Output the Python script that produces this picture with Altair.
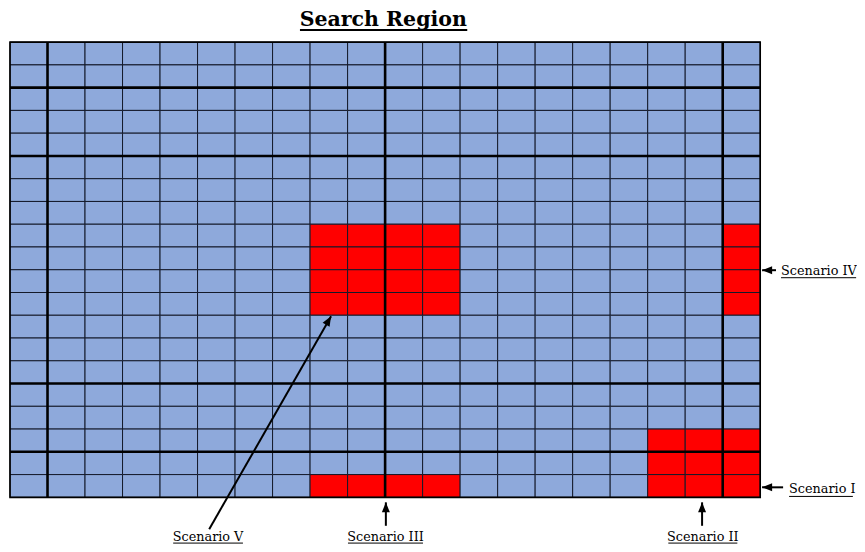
import altair as alt
import pandas as pd

# ---------------- data ----------------
N_COLS = 20
N_ROWS = 20
# red blocks: (col_start, col_end_exclusive, row_start, row_end_exclusive), rows counted from the top
RED_BLOCKS = [
    (8, 12, 8, 12),
    (19, 20, 8, 12),
    (17, 20, 17, 20),
    (8, 12, 19, 20),
]
THICK_COLS = [1, 10, 19]
THICK_ROWS = [2, 5, 15, 18]

BLUE = "#8EA9DB"
RED = "#FF0000"
LINE = "#141a2a"
FONT = "DejaVu Serif"

TITLE = "Search Region"
TITLE_X = [9.95]
TITLE_Y = [-0.71]
TITLE_UL_X = [7.73, 12.19]
TITLE_UL_Y = [-0.535]

LEFT_LABELS = ["Scenario IV", "Scenario I"]
LEFT_X = [20.555, 20.77]
LEFT_Y = [10.24, 19.83]
LEFT_UL_X0 = [20.555, 20.77]
LEFT_UL_X1 = [22.557, 22.47]
LEFT_UL_Y = [10.35, 19.96]

CENTER_LABELS = ["Scenario II", "Scenario III", "Scenario V"]
CENTER_X = [18.47, 10.01, 5.28]
CENTER_Y = [21.92, 21.92, 21.92]
CENTER_UL_X0 = [17.55, 9.01, 4.35]
CENTER_UL_X1 = [19.39, 11.01, 6.21]
CENTER_UL_Y = [22.01, 22.01, 22.01]

ARROW_TAIL_X = [20.61, 18.45, 10.02, 20.42, 5.31]
ARROW_TAIL_Y = [19.56, 21.25, 21.25, 10.02, 21.40]
ARROW_TIP_X = [20.05, 18.45, 10.02, 20.05, 8.56]
ARROW_TIP_Y = [19.56, 20.22, 20.22, 10.02, 12.04]
ARROW_ANGLE = [270, 0, 0, 270, 30]

# ---------------- tables ----------------
cells = []
for r in range(N_ROWS):
    for c in range(N_COLS):
        red = any(c0 <= c < c1 and r0 <= r < r1 for (c0, c1, r0, r1) in RED_BLOCKS)
        cells.append({"c": c, "c2": c + 1, "r": r, "r2": r + 1, "fill": RED if red else BLUE})
cells_df = pd.DataFrame(cells)

thick_v = pd.DataFrame({"x": THICK_COLS, "x2": THICK_COLS,
                        "y": [0] * len(THICK_COLS), "y2": [N_ROWS] * len(THICK_COLS)})
thick_h = pd.DataFrame({"x": [0] * len(THICK_ROWS), "x2": [N_COLS] * len(THICK_ROWS),
                        "y": THICK_ROWS, "y2": THICK_ROWS})
thick_df = pd.concat([thick_v, thick_h], ignore_index=True)
border_df = pd.DataFrame({"x": [0], "x2": [N_COLS], "y": [0], "y2": [N_ROWS]})

title_df = pd.DataFrame({"x": TITLE_X, "y": TITLE_Y, "t": [TITLE]})
title_ul_df = pd.DataFrame({"x": [TITLE_UL_X[0]], "x2": [TITLE_UL_X[1]],
                            "y": TITLE_UL_Y, "y2": TITLE_UL_Y})
left_df = pd.DataFrame({"x": LEFT_X, "y": LEFT_Y, "t": LEFT_LABELS})
center_df = pd.DataFrame({"x": CENTER_X, "y": CENTER_Y, "t": CENTER_LABELS})
ul_df = pd.DataFrame({"x": LEFT_UL_X0 + CENTER_UL_X0, "x2": LEFT_UL_X1 + CENTER_UL_X1,
                      "y": LEFT_UL_Y + CENTER_UL_Y, "y2": LEFT_UL_Y + CENTER_UL_Y})
arrow_df = pd.DataFrame({"x": ARROW_TAIL_X, "y": ARROW_TAIL_Y,
                         "x2": ARROW_TIP_X, "y2": ARROW_TIP_Y, "a": ARROW_ANGLE})

# ---------------- scales ----------------
XS = alt.Scale(domain=[0, 22.58], nice=False, zero=False)
YS = alt.Scale(domain=[-1.5, 22.05], nice=False, zero=False, reverse=True)


def X(f="x"):
    return alt.X(f"{f}:Q", scale=XS, axis=None)


def Y(f="y"):
    return alt.Y(f"{f}:Q", scale=YS, axis=None)


cells_layer = alt.Chart(cells_df).mark_rect(stroke=LINE, strokeWidth=1).encode(
    x=X("c"), x2="c2", y=Y("r"), y2="r2", fill=alt.Fill("fill:N", scale=None)
)
thick_layer = alt.Chart(thick_df).mark_rule(color="#000000", strokeWidth=2.6).encode(
    x=X(), x2="x2", y=Y(), y2="y2"
)
border_layer = alt.Chart(border_df).mark_rect(fill=None, stroke="#000000", strokeWidth=1.6).encode(
    x=X(), x2="x2", y=Y(), y2="y2"
)
arrow_lines = alt.Chart(arrow_df).mark_rule(color="#000000", strokeWidth=2).encode(
    x=X(), y=Y(), x2="x2", y2="y2"
)
arrow_heads = alt.Chart(arrow_df).mark_point(
    shape="M0,0 L0.4,1 L-0.4,1 Z", filled=True, color="#000000", opacity=1, size=400, strokeWidth=0
).encode(x=X("x2"), y=Y("y2"), angle=alt.Angle("a:Q", scale=None))

title_layer = alt.Chart(title_df).mark_text(
    font=FONT, fontSize=20.5, fontWeight="bold", color="#000000",
    align="center", baseline="alphabetic"
).encode(x=X(), y=Y(), text="t:N")
title_ul = alt.Chart(title_ul_df).mark_rule(color="#000000", strokeWidth=2).encode(
    x=X(), x2="x2", y=Y(), y2="y2"
)
left_text = alt.Chart(left_df).mark_text(
    font=FONT, fontSize=12.8, color="#000000", align="left", baseline="alphabetic"
).encode(x=X(), y=Y(), text="t:N")
center_text = alt.Chart(center_df).mark_text(
    font=FONT, fontSize=12.8, color="#000000", align="center", baseline="alphabetic"
).encode(x=X(), y=Y(), text="t:N")
ul_layer = alt.Chart(ul_df).mark_rule(color="#000000", strokeWidth=1).encode(
    x=X(), x2="x2", y=Y(), y2="y2"
)

chart = alt.layer(
    cells_layer, thick_layer, border_layer, arrow_lines, arrow_heads,
    title_layer, title_ul, left_text, center_text, ul_layer
).properties(
    width=847, height=536, autosize="none",
    padding={"left": 2, "top": 0, "right": 0, "bottom": 0}
).configure_view(stroke=None)

chart.save("out.html", embed_options={"renderer": "svg", "actions": False})
